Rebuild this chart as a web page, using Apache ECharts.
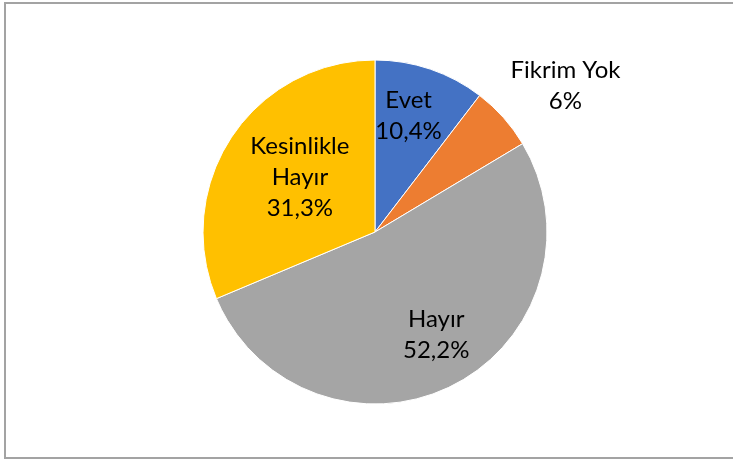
<!DOCTYPE html>
<html>
<head>
<meta charset="utf-8">
<script src="https://cdn.jsdelivr.net/npm/echarts@6/dist/echarts.min.js"></script>
<style>
  html, body { margin: 0; padding: 0; background: #fff; overflow: hidden; }
  #frame { position: absolute; left: 4px; top: 2px; width: 760px; height: 457px;
           border: 2px solid #a3a3a3; border-right: none; box-sizing: border-box; }
  #chart { position: absolute; left: 0; top: 0; width: 733px; height: 463px; }
</style>
</head>
<body>
<div id="frame"></div>
<div id="chart"></div>
<script>
// answer categories, in clockwise order from 12 o'clock
const categories = ['Evet', 'Fikrim Yok', 'Hayır', 'Kesinlikle\nHayır']
const values = [10.4, 6, 52.2, 31.3]
const colors = ['#4472C4', '#ED7D31', '#A5A5A5', '#FFC000']
// nudges of the data labels away from the default inside spot
const labelOffsets = [[5, -32], [124, -87], [21, 23], [-1, -5]]

const chart = echarts.init(document.getElementById('chart'), null, { renderer: 'canvas' })

const pieData = categories.map((name, i) => ({
  name: name,
  value: values[i],
  itemStyle: { color: colors[i] },
  label: { offset: labelOffsets[i] }
}))

const option = {
  backgroundColor: 'transparent',
  animation: false,
  series: [
    {
      type: 'pie',
      center: [375, 232],
      radius: 172,
      startAngle: 90,
      clockwise: true,
      avoidLabelOverlap: false,
      itemStyle: { borderColor: '#fff', borderWidth: 1 },
      label: {
        show: true,
        position: 'inside',
        color: '#000',
        fontFamily: 'Lato',
        fontSize: 24,
        lineHeight: 31,
        formatter: p => p.name + '\n' + String(p.value).replace('.', ',') + '%'
      },
      labelLine: { show: false },
      emphasis: { disabled: true },
      data: pieData
    }
  ]
}
chart.setOption(option)
window.addEventListener('resize', () => chart.resize())
</script>
</body>
</html>
